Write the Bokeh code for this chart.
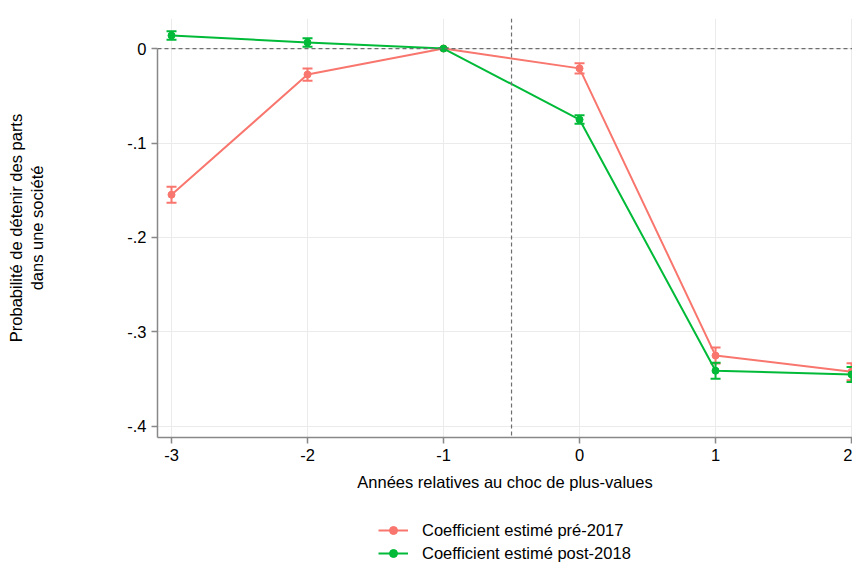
from bokeh.plotting import figure
from bokeh.layouts import column
from bokeh.models import (ColumnDataSource, Whisker, TeeHead, Span, Legend, LegendItem,
                          FixedTicker, CustomJSTickFormatter, Range1d)
from bokeh.embed import file_html
from bokeh.resources import INLINE

years = [-3, -2, -1, 0, 1, 2]
pre_coef = [-0.1547, -0.0275, 0.0, -0.0210, -0.3250, -0.3420]
pre_err = [0.0085, 0.0065, 0.0, 0.0055, 0.0085, 0.0090]
post_coef = [0.0138, 0.0064, 0.0, -0.0752, -0.3410, -0.3450]
post_err = [0.0045, 0.0045, 0.0, 0.0045, 0.0085, 0.0080]
labels = ["Coefficient estimé pré-2017", "Coefficient estimé post-2018"]
colors = ["#F8766D", "#00BA38"]
y_ticks = [-0.4, -0.3, -0.2, -0.1, 0.0]
x_ticks = [-3, -2, -1, 0, 1, 2]

FONT = "Liberation Sans"
FS = "16.5px"

p = figure(width=852, height=500, output_backend="svg", toolbar_location=None,
           x_range=Range1d(-3.103, 2.007), y_range=Range1d(-0.4117, 0.0318),
           min_border_left=157, min_border_right=0, min_border_top=18, min_border_bottom=63)
p.outline_line_color = None
p.background_fill_color = "white"

p.xgrid.ticker = FixedTicker(ticks=x_ticks)
p.ygrid.ticker = FixedTicker(ticks=y_ticks)
p.grid.grid_line_color = "#EBEBEB"
p.grid.grid_line_width = 1

for ax in (p.xaxis[0], p.yaxis[0]):
    ax.axis_line_color = "#888888"
    ax.axis_line_width = 1.5
    ax.major_tick_line_color = "#888888"
    ax.major_tick_line_width = 1.5
    ax.major_tick_out = 6
    ax.major_tick_in = 0
    ax.minor_tick_line_color = None
    ax.major_label_text_font = FONT
    ax.major_label_text_font_size = FS
    ax.major_label_text_color = "black"
    ax.axis_label_text_font = FONT
    ax.axis_label_text_font_size = FS
    ax.axis_label_text_font_style = "normal"
    ax.axis_label_text_color = "black"
    ax.major_label_standoff = 5

p.xaxis.ticker = FixedTicker(ticks=x_ticks)
p.yaxis.ticker = FixedTicker(ticks=y_ticks)
p.yaxis.bounds = (-0.4117, 0.0)
p.xaxis.formatter = CustomJSTickFormatter(code="return String(Math.round(tick));")
p.yaxis.formatter = CustomJSTickFormatter(code="""
if (Math.abs(tick) < 1e-9) return '0';
var s = tick.toFixed(1);
return s.replace('0.', '.');
""")
p.xaxis.axis_label = "Années relatives au choc de plus-values"
p.xaxis.axis_label_standoff = 9
p.yaxis.axis_label = "Probabilité de détenir des parts\ndans une société"
p.yaxis.axis_label_standoff = 78

# reference lines
p.add_layout(Span(location=0, dimension="width", line_color="#6E6E6E",
                  line_dash="4 3", line_width=1.2))
p.add_layout(Span(location=-0.5, dimension="height", line_color="#6E6E6E",
                  line_dash="4 3", line_width=1.2))

for coef, err, col in [(pre_coef, pre_err, colors[0]), (post_coef, post_err, colors[1])]:
    src = ColumnDataSource(dict(x=years, y=coef,
                                lo=[c - e for c, e in zip(coef, err)],
                                hi=[c + e for c, e in zip(coef, err)]))
    w = Whisker(source=src, base="x", upper="hi", lower="lo", line_color=col, line_width=2,
                upper_head=TeeHead(size=10, line_color=col, line_width=2),
                lower_head=TeeHead(size=10, line_color=col, line_width=2))
    p.add_layout(w)
    p.line("x", "y", source=src, line_color=col, line_width=2)
    p.scatter("x", "y", source=src, size=7, fill_color=col, line_color=col)

# legend strip below the chart (its frame is aligned with the chart's frame)
leg = figure(width=852, height=63, output_backend="svg", toolbar_location=None,
             x_range=Range1d(0, 1), y_range=Range1d(0, 1),
             x_axis_type=None, y_axis_type=None,
             min_border_left=157, min_border_right=0, min_border_top=0, min_border_bottom=0)
leg.outline_line_color = None
leg.grid.visible = False
items = []
for lab, col in zip(labels, colors):
    hidden = ColumnDataSource(dict(x=[float("nan")], y=[float("nan")]))
    r1 = leg.line("x", "y", source=hidden, line_color=col, line_width=2)
    r2 = leg.scatter("x", "y", source=hidden, size=6, fill_color=col, line_color=col)
    items.append(LegendItem(label=lab, renderers=[r1, r2]))

legend = Legend(items=items, location=(221, 0), orientation="vertical",
                label_text_font=FONT, label_text_font_size=FS, label_text_color="black",
                glyph_width=30, label_standoff=14, spacing=3, padding=0,
                margin=0, border_line_color=None, background_fill_alpha=0)
leg.add_layout(legend)

open("out.html", "w").write(file_html(column(p, leg, spacing=0), INLINE))
